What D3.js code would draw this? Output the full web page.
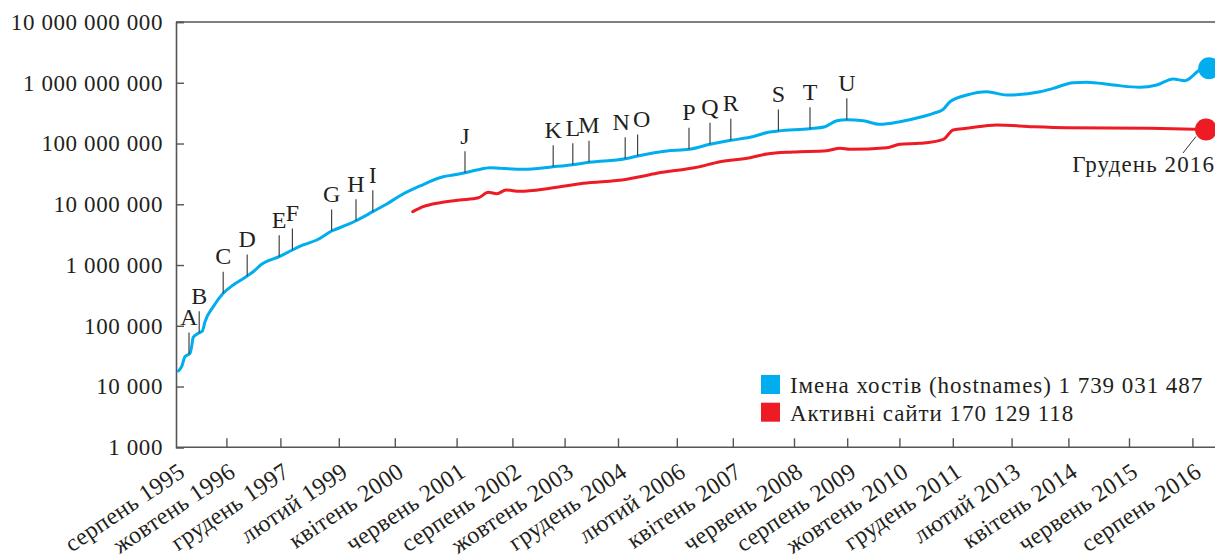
<!DOCTYPE html>
<html><head><meta charset="utf-8">
<script src="https://cdn.jsdelivr.net/npm/d3@7"></script>
<style>
body{margin:0;background:#fff}
svg{display:block}
svg text{font-family:"Liberation Serif","Tinos","Times New Roman","DejaVu Serif",serif !important;}
</style>
</head><body>
<svg id="c" width="1215" height="558"></svg>
<script>
// ---- data (x = survey index, y = count) ----
const xTickLabels = ["серпень 1995","жовтень 1996","грудень 1997","лютий 1999","квітень 2000","червень 2001","серпень 2002","жовтень 2003","грудень 2004","лютий 2006","квітень 2007","червень 2008","серпень 2009","жовтень 2010","грудень 2011","лютий 2013","квітень 2014","червень 2015","серпень 2016"];
const xTickIdx = [0, 12.6, 26.1, 40.7, 54.7, 70.15, 84.1, 97.15, 110.5, 125.2, 139.2, 154.5, 167.8, 180.85, 194.2, 208.9, 223.1, 238.25, 254.1];
const yTickValues = [1e3, 1e4, 1e5, 1e6, 1e7, 1e8, 1e9, 1e10];

const hostIdx = [0.6,1.4,2.25,3.5,3.9,4.3,5.6,6.6,7.25,9.3,11.8,14.3,17.8,19.3,21.4,25.8,29.1,31.8,35.2,38.9,42.7,45,49.2,52.7,56,61,66.8,69.3,72.25,75.2,78.5,81,86.8,94.3,99.2,103.25,112.3,115.4,122.7,128.25,133.5,138.7,143.5,148.1,150.6,158.5,162.25,165.2,167.7,171.8,176,181,186,189.3,191.8,193.5,197.7,202.7,207.7,216,219.3,224.3,227.7,234.3,241,245.2,249.3,252.25,256,258.3];
const hostVal = [18000,21200,31000,35200,45300,64600,75200,82000,116700,206000,342500,469000,659000,776000,1028000,1371000,1766000,2137000,2582000,3631000,4560000,5360000,7550000,10100000,13800000,20000000,28400000,30300000,33100000,36600000,40000000,39100000,37600000,41500000,44800000,49100000,56200000,62200000,75300000,80200000,97000000,113000000,126500000,152800000,160700000,175400000,189200000,237300000,246700000,237300000,207000000,228500000,270000000,314000000,365500000,487500000,628000000,711000000,628000000,711000000,809000000,1002000000,1017000000,918000000,841000000,918000000,1153000000,1081000000,1622000000,1739031487];

const activeIdx = [59.2,61.8,66,71,75.6,78.1,80.2,82.5,86,93.5,101.8,112.7,116,120.2,130.2,136,143.5,147.7,154.3,162.7,166,168.5,177.7,181,186,191.8,194.3,197.7,205.2,214.3,222.7,243.5,257.5];
const activeVal = [7550000,9120000,10600000,11750000,12820000,15730000,14930000,17180000,16330000,18320000,22130000,25760000,28440000,32330000,40570000,50140000,58380000,67150000,72440000,76050000,83390000,80310000,85260000,97000000,100700000,117300000,166700000,177900000,201700000,189200000,182000000,177900000,170129118];

const annLetters = ["A","B","C","D","E","F","G","H","I","J","K","L","M","N","O","P","Q","R","S","T","U"];
const annIdx = [3.25,5.8,11.8,17.8,25.8,29.1,38.9,45,49.2,72.25,94.3,99.2,103.25,112.3,115.4,128.25,133.5,138.7,150.6,158.5,167.7];

const seriesNames = ["Імена хостів (hostnames) 1 739 031 487", "Активні сайти 170 129 118"];
const seriesColors = ["#00AEEF", "#ED1C24"];
const endLabel = "Грудень 2016";

// ---- layout ----
const W = 1215, H = 558;
const mLeft = 176, mTop = 22, mBottom = 447.3, mRight = 1216;
const INK = "#231F20", AXIS = "#555";
const labelNudge = {N: -4, O: 4};

const svg = d3.select("#c");
const x = d3.scaleLinear().domain([0, 260]).range([mLeft, mRight]);
const y = d3.scaleLog().domain([1e3, 1e10]).range([mBottom, mTop]);
const loc = d3.formatLocale({decimal: ",", thousands: " ", grouping: [3], currency: ["", ""]});
const fmt = loc.format(",d");

// frame top line
svg.append("line").attr("x1", mLeft).attr("x2", W).attr("y1", y(1e10)).attr("y2", y(1e10))
  .attr("stroke", AXIS).attr("stroke-width", 1.6);

// y axis
const gy = svg.append("g").attr("transform", `translate(${mLeft},0)`)
  .call(d3.axisLeft(y).tickValues(yTickValues).tickFormat(fmt).tickSize(-8).tickPadding(13));
gy.attr("font-family", null);
gy.select(".domain").attr("stroke", AXIS).attr("stroke-width", 1.6);
gy.selectAll(".tick line").attr("stroke", AXIS).attr("stroke-width", 1.4);
gy.selectAll(".tick text").attr("font-size", 23).attr("letter-spacing", 0.6)
  .attr("fill", INK).attr("x", -13);

// x axis
const gx = svg.append("g").attr("transform", `translate(0,${mBottom})`)
  .call(d3.axisBottom(x).tickValues(xTickIdx).tickFormat((d, i) => xTickLabels[i]).tickSize(-9));
gx.attr("font-family", null);
gx.select(".domain").attr("stroke", AXIS).attr("stroke-width", 1.6).attr("d", `M${mLeft},0H${W}`);
gx.selectAll(".tick line").attr("stroke", AXIS).attr("stroke-width", 1.4)
  .filter((d, i) => i === 0).remove();
gx.selectAll(".tick text").attr("font-size", 24).attr("letter-spacing", 0.3)
  .attr("fill", INK).attr("text-anchor", "end").attr("y", 0).attr("dy", 0)
  .attr("transform", "translate(10,28) rotate(-34)");

// lines
const line = d3.line().x(d => x(d[0])).y(d => y(d[1])).curve(d3.curveMonotoneX);
const hostData = hostIdx.map((v, i) => [v, hostVal[i]]);
const activeData = activeIdx.map((v, i) => [v, activeVal[i]]);
[hostData, activeData].forEach((data, k) => {
  svg.append("path").attr("d", line(data)).attr("fill", "none")
    .attr("stroke", seriesColors[k]).attr("stroke-width", 3).attr("stroke-linejoin", "round").attr("stroke-linecap", "round");
});

// annotations
const hostLog = d3.scaleLinear().domain(hostIdx).range(hostVal.map(v => Math.log10(v)));
annLetters.forEach((L, i) => {
  const ax = x(annIdx[i]);
  const ay = y(Math.pow(10, hostLog(annIdx[i])));
  svg.append("line").attr("x1", ax).attr("x2", ax).attr("y1", ay).attr("y2", ay - 21.5)
    .attr("stroke", "#444").attr("stroke-width", 1.2);
  svg.append("text").attr("x", ax + (labelNudge[L] || 0)).attr("y", ay - 29)
    .attr("text-anchor", "middle").attr("font-size", 24).attr("fill", INK).text(L);
});

// end dots
const hostEnd = hostData[hostData.length - 1], actEnd = activeData[activeData.length - 1];
[hostEnd, actEnd].forEach((d, k) => {
  svg.append("circle").attr("cx", x(d[0])).attr("cy", y(d[1])).attr("r", 11).attr("fill", seriesColors[k]);
});
const ex = x(actEnd[0]), ey = y(actEnd[1]);
svg.append("line").attr("x1", ex - 10).attr("y1", ey + 7).attr("x2", ex - 23).attr("y2", ey + 23.5)
  .attr("stroke", "#333").attr("stroke-width", 1);
svg.append("text").attr("x", ex + 9).attr("y", ey + 42.5).attr("text-anchor", "end")
  .attr("font-size", 23).attr("letter-spacing", 1.1).attr("fill", INK).text(endLabel);

// legend
const lgd = svg.append("g").attr("transform", "translate(761,375)");
seriesNames.forEach((n, k) => {
  lgd.append("rect").attr("x", 0).attr("y", k * 27.7).attr("width", 19).attr("height", 19).attr("fill", seriesColors[k]);
  lgd.append("text").attr("x", 29).attr("y", k * 27.7 + 18).attr("font-size", 23)
    .attr("letter-spacing", 0.95).attr("fill", INK).text(n);
});
</script>
</body></html>
